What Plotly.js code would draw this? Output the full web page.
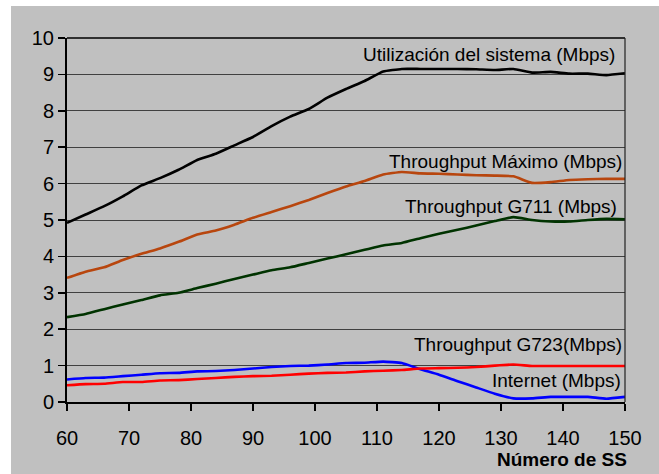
<!DOCTYPE html>
<html>
<head>
<meta charset="utf-8">
<script src="https://cdn.plot.ly/plotly-3.0.1.min.js"></script>
<style>
html, body { margin: 0; padding: 0; background: #ffffff; }
#chart { position: absolute; left: 11px; top: 6px; width: 648px; height: 468px; }
</style>
</head>
<body>
<div id="chart"></div>
<script>
const numeroSS = [60, 63, 66, 69, 72, 75, 78, 81, 84, 87, 90, 93, 96, 99, 102, 105, 108, 111, 114, 117, 120, 123, 126, 129, 132, 135, 138, 141, 144, 147, 150];

const utilizacion = [4.92, 5.15, 5.38, 5.65, 5.95, 6.15, 6.38, 6.65, 6.82, 7.05, 7.28, 7.58, 7.84, 8.05, 8.36, 8.6, 8.82, 9.08, 9.15, 9.15, 9.15, 9.15, 9.14, 9.12, 9.15, 9.05, 9.07, 9.02, 9.02, 8.98, 9.03];

const throughputMax = [3.41, 3.58, 3.7, 3.9, 4.07, 4.22, 4.4, 4.6, 4.71, 4.87, 5.06, 5.22, 5.38, 5.55, 5.74, 5.92, 6.07, 6.25, 6.32, 6.28, 6.27, 6.25, 6.23, 6.22, 6.2, 6.02, 6.04, 6.1, 6.12, 6.13, 6.13];

const throughputG711 = [2.33, 2.42, 2.55, 2.68, 2.8, 2.93, 3.0, 3.13, 3.25, 3.38, 3.5, 3.62, 3.7, 3.82, 3.94, 4.06, 4.18, 4.3, 4.37, 4.5, 4.62, 4.73, 4.85, 4.97, 5.08, 5.0, 4.96, 4.96, 5.0, 5.03, 5.02];

const throughputG723 = [0.46, 0.49, 0.5, 0.55, 0.55, 0.59, 0.6, 0.63, 0.66, 0.69, 0.71, 0.72, 0.75, 0.78, 0.8, 0.81, 0.84, 0.86, 0.88, 0.92, 0.93, 0.94, 0.96, 1.0, 1.03, 0.99, 0.99, 0.99, 0.99, 0.99, 0.99];

const internet = [0.62, 0.66, 0.67, 0.71, 0.75, 0.79, 0.8, 0.84, 0.85, 0.88, 0.92, 0.96, 0.99, 1.0, 1.03, 1.07, 1.08, 1.11, 1.07, 0.9, 0.75, 0.57, 0.4, 0.23, 0.1, 0.1, 0.14, 0.14, 0.14, 0.09, 0.14];

const seriesNames = ["Utilización del sistema (Mbps)", "Throughput Máximo (Mbps)", "Throughput G711 (Mbps)", "Throughput G723(Mbps)", "Internet (Mbps)"];
const xTitle = "Número de SS";
const xTicks = [60, 70, 80, 90, 100, 110, 120, 130, 140, 150];

const font = "Liberation Sans, Arial, sans-serif";

function line(y, name, color) {
  return {
    x: numeroSS, y: y, name: name, type: "scatter", mode: "lines",
    line: { color: color, width: 2.6, shape: "spline", smoothing: 0.4 },
    hoverinfo: "skip"
  };
}

const data = [
  line(internet, seriesNames[4], "#0000ff"),
  line(throughputG723, seriesNames[3], "#ff0000"),
  line(throughputG711, seriesNames[2], "#003300"),
  line(throughputMax, seriesNames[1], "#b8460e"),
  line(utilizacion, seriesNames[0], "#000000")
];

function lab(text, x, y) {
  return {
    text: text, xref: "paper", yref: "y", x: x, y: y,
    xanchor: "right", yanchor: "middle", showarrow: false,
    font: { family: font, size: 19, color: "#000000" }
  };
}

const layout = {
  width: 648, height: 468,
  margin: { l: 56, r: 34, t: 32, b: 72 },
  paper_bgcolor: "#c0c0c0",
  plot_bgcolor: "#c0c0c0",
  showlegend: false,
  font: { family: font, size: 19, color: "#000000" },
  xaxis: {
    range: [60, 150], tickvals: xTicks,
    showgrid: false, zeroline: false,
    showline: true, linecolor: "#000000", linewidth: 2,
    ticks: "outside", ticklen: 7, tickwidth: 1.5, tickcolor: "#000000",
    ticklabelstandoff: 10,
    tickfont: { family: font, size: 20, color: "#000000" }
  },
  yaxis: {
    range: [0, 10], dtick: 1,
    showgrid: true, gridcolor: "#404040", gridwidth: 1,
    zeroline: false,
    showline: true, linecolor: "#000000", linewidth: 2,
    ticks: "outside", ticklen: 7, tickwidth: 1.5, tickcolor: "#000000",
    tickfont: { family: font, size: 20, color: "#000000" }
  },
  shapes: [
    { type: "line", xref: "paper", yref: "paper", x0: 0, x1: 1, y0: 1, y1: 1, line: { color: "#000000", width: 1.5 } },
    { type: "line", xref: "paper", yref: "paper", x0: 1, x1: 1, y0: 0, y1: 1, line: { color: "#202020", width: 1.2 } }
  ],
  annotations: [
    lab(seriesNames[0], 0.985, 9.56),
    lab(seriesNames[1], 0.998, 6.61),
    lab(seriesNames[2], 0.99, 5.37),
    lab(seriesNames[3], 0.998, 1.57),
    lab(seriesNames[4], 0.996, 0.59),
    {
      text: "<b>" + xTitle + "</b>", xref: "paper", yref: "paper", x: 1.008, y: -0.157,
      xanchor: "right", yanchor: "middle", showarrow: false,
      font: { family: font, size: 19, color: "#000000" }
    }
  ]
};

Plotly.newPlot("chart", data, layout, { staticPlot: true });
</script>
</body>
</html>
